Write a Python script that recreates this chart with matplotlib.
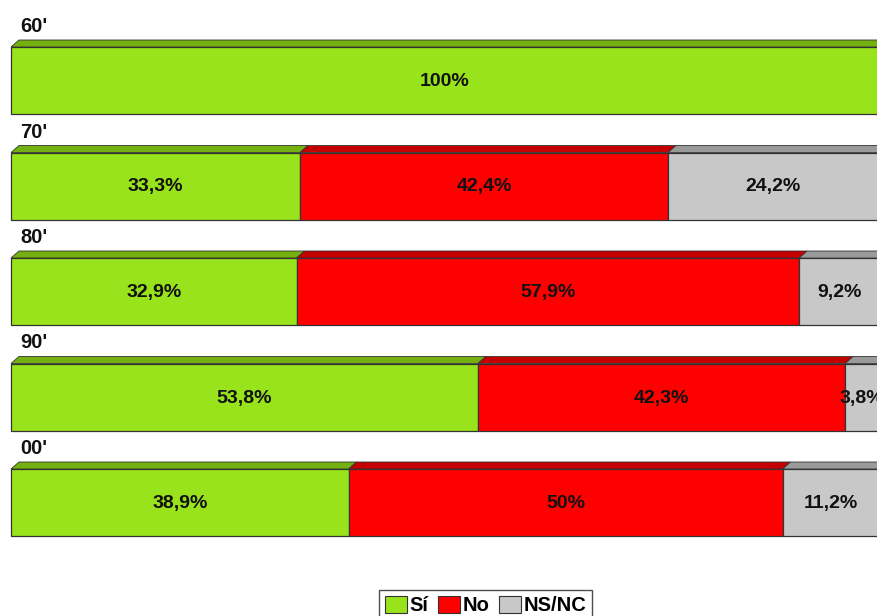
import matplotlib.pyplot as plt
from matplotlib.patches import Polygon, Patch

plt.rcParams['font.family'] = ['Liberation Sans', 'DejaVu Sans']

decades = ["60'", "70'", "80'", "90'", "00'"]
si = [100, 33.3, 32.9, 53.8, 38.9]
no = [0, 42.4, 57.9, 42.3, 50]
nsnc = [0, 24.2, 9.2, 3.8, 11.2]
labels_si = ["100%", "33,3%", "32,9%", "53,8%", "38,9%"]
labels_no = ["", "42,4%", "57,9%", "42,3%", "50%"]
labels_ns = ["", "24,2%", "9,2%", "3,8%", "11,2%"]

series = [("Sí", si, labels_si, "#99e31c", "#73b010"),
          ("No", no, labels_no, "#ff0000", "#c40000"),
          ("NS/NC", nsnc, labels_ns, "#c8c8c8", "#9a9a9a")]

W, H = 878, 616
fig = plt.figure(figsize=(W / 100, H / 100), dpi=100)
ax = fig.add_axes([11 / W, 0, 868 / W, 1])
ax.set_xlim(0, 100)
ax.set_ylim(H, 0)
ax.axis("off")

px = 100 / 868  # percent per pixel
top0, step, bh = 47, 105.5, 67
dx, depth = 8 * px, 7

for i, dec in enumerate(decades):
    top = top0 + step * i
    left = 0
    for name, vals, labs, col, dark in series:
        v = vals[i]
        if v <= 0:
            continue
        ax.barh(top + bh / 2, v, left=left, height=bh, color=col,
                edgecolor="#333333", linewidth=0.9, clip_on=False)
        face = Polygon([(left, top), (left + dx, top - depth),
                        (left + v + dx, top - depth), (left + v, top)],
                       closed=True, facecolor=dark, edgecolor="#333333",
                       linewidth=0.6, clip_on=False)
        ax.add_patch(face)
        ax.text(left + v / 2, top + bh / 2 + 1, labs[i], ha="center", va="center",
                fontsize=14, fontweight="bold", color="#111111")
        left += v
    ax.text(9 * px, top - 15, dec, ha="left", va="baseline",
            fontsize=14.5, fontweight="bold", color="#111111")

handles = [Patch(facecolor=c, edgecolor="#333333", linewidth=0.8, label=n)
           for n, _, _, c, _ in series]
leg = fig.legend(handles=handles, loc="lower center", bbox_to_anchor=(0.553, -0.025),
                 ncol=3, frameon=True, fancybox=False, edgecolor="#222222",
                 handlelength=1.1, handleheight=0.9, handletextpad=0.1,
                 columnspacing=0.5, borderpad=0.3,
                 prop={"weight": "bold", "size": 14.5})
leg.get_frame().set_linewidth(1.0)

fig.savefig("out.png", dpi=100)
